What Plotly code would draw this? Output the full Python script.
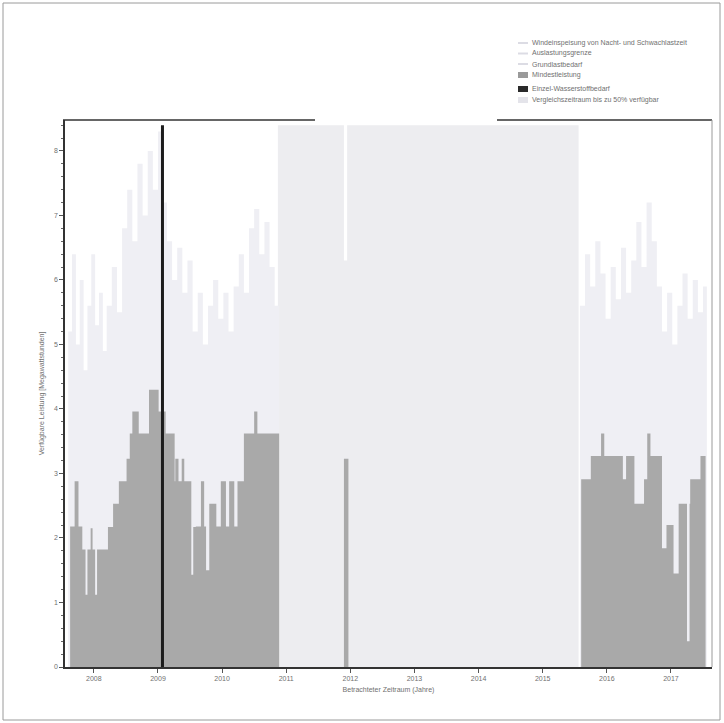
import plotly.graph_objects as go

# ---------------- data ----------------
years = list(range(2008, 2018))
year_labels = [str(y) for y in years]
y_ticks = list(range(0, 9))

legend_names = [
    "Windeinspeisung von Nacht- und Schwachlastzeit",
    "Auslastungsgrenze",
    "Grundlastbedarf",
    "Mindestleistung",
    "Einzel-Wasserstoffbedarf",
    "Vergleichszeitraum bis zu 50% verfügbar",
]

# Mindestleistung (step series: segment start in decimal years, value)
min_x = [2007.63, 2007.70, 2007.76, 2007.82, 2007.87, 2007.90, 2007.95, 2007.98,
         2008.02, 2008.05, 2008.22, 2008.30, 2008.39, 2008.51, 2008.56, 2008.60,
         2008.70, 2008.86, 2009.01, 2009.12, 2009.26, 2009.27, 2009.32, 2009.37,
         2009.41, 2009.52, 2009.55, 2009.59, 2009.67, 2009.72, 2009.75, 2009.80,
         2009.91, 2009.98, 2010.06, 2010.11, 2010.19, 2010.24, 2010.34, 2010.50,
         2010.55, 2010.89,
         2011.90, 2011.97,
         2015.60, 2015.75, 2015.91, 2015.96, 2016.25, 2016.30, 2016.43, 2016.58,
         2016.63, 2016.68, 2016.86, 2016.93, 2017.04, 2017.12, 2017.25, 2017.29,
         2017.30, 2017.46, 2017.54]
min_y = [2.18, 2.88, 2.18, 1.82, 1.12, 1.82, 2.15, 1.82,
         1.12, 1.82, 2.17, 2.53, 2.88, 3.23, 3.62, 3.96,
         3.62, 4.30, 3.96, 3.62, 2.88, 3.23, 2.88, 3.23,
         2.88, 1.43, 2.17, 2.18, 2.88, 2.18, 1.50, 2.53,
         2.18, 2.88, 2.18, 2.88, 2.18, 2.88, 3.62, 3.96,
         3.62, 0.0,
         3.23, 0.0,
         2.91, 3.27, 3.62, 3.27, 2.91, 3.27, 2.53, 2.91,
         3.62, 3.27, 1.84, 2.20, 1.45, 2.53, 0.40, 2.53,
         2.91, 3.27, 0.0]

# Windeinspeisung (light background series)
wind_x = [2007.60, 2007.66, 2007.72, 2007.78, 2007.84, 2007.90, 2007.96, 2008.02,
          2008.08, 2008.14, 2008.20, 2008.28, 2008.36, 2008.44, 2008.52, 2008.60,
          2008.68, 2008.76, 2008.84, 2008.92, 2009.00, 2009.06, 2009.14, 2009.22,
          2009.30, 2009.38, 2009.46, 2009.54, 2009.62, 2009.70, 2009.78, 2009.86,
          2009.94, 2010.02, 2010.10, 2010.18, 2010.26, 2010.34, 2010.42, 2010.50,
          2010.58, 2010.66, 2010.74, 2010.82, 2010.89,
          2015.58, 2015.66, 2015.74, 2015.82, 2015.90, 2015.98, 2016.06, 2016.14,
          2016.22, 2016.30, 2016.38, 2016.46, 2016.54, 2016.62, 2016.70, 2016.78,
          2016.86, 2016.94, 2017.02, 2017.10, 2017.18, 2017.26, 2017.34, 2017.42,
          2017.50, 2017.56]
wind_y = [5.2, 6.4, 5.0, 6.0, 4.6, 5.6, 6.4, 5.3,
          5.8, 4.9, 5.6, 6.2, 5.5, 6.8, 7.4, 6.6,
          7.8, 7.0, 8.0, 7.4, 8.3, 7.2, 6.6, 6.0,
          6.5, 5.8, 6.3, 5.2, 5.8, 5.0, 5.6, 6.0,
          5.4, 5.8, 5.2, 5.9, 6.4, 5.8, 6.8, 7.1,
          6.4, 6.9, 6.2, 5.6, 0.0,
          5.6, 6.4, 5.9, 6.6, 6.1, 5.4, 6.2, 5.7,
          6.5, 5.8, 6.3, 6.9, 6.2, 7.2, 6.6, 5.9,
          5.2, 5.8, 5.0, 5.6, 6.1, 5.4, 6.0, 5.5,
          5.9, 0.0]

# Vergleichszeitraum (shaded period)
band_x = [2010.87, 2011.90, 2011.95, 2015.56]
band_y = [8.4, 6.3, 8.4, 0.0]

# Einzel-Wasserstoffbedarf (single peak)
peak_x = [2009.07]
peak_y = [8.4]

# ---------------- styles ----------------
c_band = "#ededf0"
c_wind = "#efeff4"
c_min = "#a9a9a9"
c_peak = "#1c1c1c"
c_text = "#707070"
font_family = "Liberation Sans, Arial, sans-serif"

fig = go.Figure()

fig.add_trace(go.Scatter(x=band_x, y=band_y, mode="lines", line=dict(width=0, shape="hv"),
                         fill="tozeroy", fillcolor=c_band, name=legend_names[5],
                         showlegend=False, hoverinfo="skip"))
fig.add_trace(go.Scatter(x=wind_x, y=wind_y, mode="lines", line=dict(width=0, shape="hv"),
                         fill="tozeroy", fillcolor=c_wind, name=legend_names[0],
                         showlegend=False, hoverinfo="skip"))
fig.add_trace(go.Scatter(x=min_x, y=min_y, mode="lines", line=dict(width=0, shape="hv"),
                         fill="tozeroy", fillcolor=c_min, name=legend_names[3],
                         showlegend=False))
fig.add_trace(go.Scatter(x=[peak_x[0], peak_x[0]], y=[0, peak_y[0]], mode="lines",
                         line=dict(color=c_peak, width=3), name=legend_names[4],
                         showlegend=False))

# ---------------- layout ----------------
L, R, T, B = 65, 12, 120, 56
W, H = 724, 723
pw, ph = W - L - R, H - T - B

def px_x(p):
    return (p - L) / pw

def px_y(p):
    return (H - B - p) / ph

shapes = []
# outer scan frame
shapes.append(dict(type="rect", xref="paper", yref="paper",
                   x0=px_x(3), x1=px_x(720), y0=px_y(720), y1=px_y(3),
                   line=dict(color="#9a9a9a", width=1)))
# top border pieces
shapes.append(dict(type="line", xref="paper", yref="paper", x0=px_x(63), x1=px_x(315),
                   y0=1, y1=1, line=dict(color="#333333", width=1.5)))
shapes.append(dict(type="line", xref="paper", yref="paper", x0=px_x(497), x1=1,
                   y0=1, y1=1, line=dict(color="#333333", width=1.5)))
# right border
shapes.append(dict(type="line", xref="paper", yref="paper", x0=1, x1=1,
                   y0=0, y1=1, line=dict(color="#9a9a9a", width=1)))

# manual legend
rows_px = [43, 53.5, 64, 75, 89, 100]
sw_x0, sw_x1 = px_x(518), px_x(528)
annotations = []
swatch_colors = ["#dcdce4", "#dcdce4", "#dcdce4", "#9a9a9a", "#2a2a2a", "#e4e4ea"]
for i, (name, ry) in enumerate(zip(legend_names, rows_px)):
    if i < 3:
        shapes.append(dict(type="line", xref="paper", yref="paper", x0=sw_x0, x1=sw_x1,
                           y0=px_y(ry), y1=px_y(ry), line=dict(color=swatch_colors[i], width=2)))
    else:
        shapes.append(dict(type="rect", xref="paper", yref="paper", x0=sw_x0, x1=sw_x1,
                           y0=px_y(ry + 3), y1=px_y(ry - 3), line=dict(width=0),
                           fillcolor=swatch_colors[i]))
    annotations.append(dict(x=px_x(530), y=px_y(ry), xref="paper", yref="paper",
                            text=name, showarrow=False, xanchor="left", yanchor="middle",
                            font=dict(size=7, color=c_text, family=font_family)))

fig.update_layout(
    width=W, height=H,
    margin=dict(l=L, r=R, t=T, b=B, pad=0),
    paper_bgcolor="white", plot_bgcolor="white",
    showlegend=False,
    font=dict(family=font_family, size=7, color=c_text),
    shapes=shapes,
    annotations=annotations,
    xaxis=dict(range=[2007.55, 2017.64], tickvals=years, ticktext=year_labels,
               ticks="outside", ticklen=4, tickcolor="#555555", showgrid=False,
               zeroline=False, showline=True, linecolor="#333333", linewidth=1.5,
               tickfont=dict(size=7, color=c_text),
               title=dict(text="Betrachteter Zeitraum (Jahre)", font=dict(size=7, color=c_text),
                          standoff=6)),
    yaxis=dict(range=[0, 8.48], tickvals=y_ticks, ticks="outside", ticklen=4,
               tickcolor="#555555", showgrid=False, zeroline=False, showline=True,
               linecolor="#333333", linewidth=1.5,
               minor=dict(dtick=0.2, ticks="outside", ticklen=2, tickcolor="#666666"),
               tickfont=dict(size=7, color=c_text),
               title=dict(text="Verfügbare Leistung [Megawattstunden]",
                          font=dict(size=7, color=c_text), standoff=8)),
)

fig.write_html("out.html")
